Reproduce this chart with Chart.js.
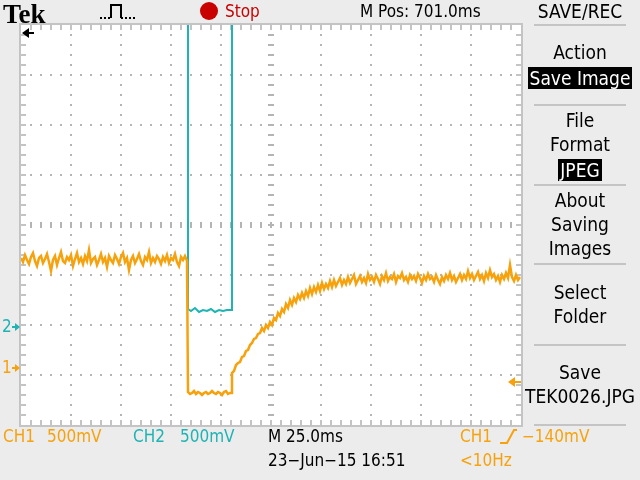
<!DOCTYPE html>
<html lang="en">
<head>
<meta charset="utf-8">
<title>TEK0026</title>
<script src="https://cdn.jsdelivr.net/npm/chart.js@4.4.1/dist/chart.umd.min.js"></script>
<style>
  html, body { margin: 0; padding: 0; }
  body {
    width: 640px; height: 480px; position: relative; overflow: hidden;
    background: #ececec; color: #000;
    font-family: "DejaVu Sans Condensed", "Liberation Sans Narrow", "DejaVu Sans", sans-serif;
    font-stretch: condensed;
  }
  #scope { position: absolute; left: 0; top: 0; }
  .t    { position: absolute; white-space: nowrap; font-size: 17px; line-height: 20px; height: 20px; }
  .menu { position: absolute; left: 520px; width: 120px; text-align: center; white-space: nowrap;
          font-size: 19px; line-height: 24px; height: 24px; }
  .sep  { position: absolute; left: 534px; width: 92px; height: 2px; background: #c4c4c4; }
  .inv  { background: #000; color: #fff; padding: 0 2px; }
  .ch1  { color: #f7a20d; }
  .ch2  { color: #1fb3b3; }
  .red  { color: #c80000; }
</style>
</head>
<body>
<canvas id="scope" width="640" height="480"></canvas>

<!-- top status line -->
<div class="t" style="left:3px; top:-1px; height:26px; line-height:26px; font:bold 27px 'Liberation Serif', serif;">Tek</div>
<svg class="t" style="left:98px; top:2px;" width="40" height="20">
  <polyline points="2,16 13,16" fill="none" stroke="#000" stroke-width="2" stroke-dasharray="2,2"/>
  <polyline points="13,16 13,3 23,3 23,16" fill="none" stroke="#000" stroke-width="2"/>
  <polyline points="23,16 37,16" fill="none" stroke="#000" stroke-width="2" stroke-dasharray="2,2"/>
</svg>
<div style="position:absolute; left:200px; top:2px; width:18px; height:18px; border-radius:50%; background:#c80000;"></div>
<div class="t red" style="left:225px; top:1px;">Stop</div>
<div class="t" style="left:360px; top:1px;">M Pos: 701.0ms</div>
<div class="menu" style="top:-1px;">SAVE/REC</div>

<!-- side menu -->
<div class="sep" style="top:24px;"></div>
<div class="menu" style="top:40px;">Action</div>
<div class="menu" style="top:66px;"><span class="inv">Save Image</span></div>
<div class="sep" style="top:104px;"></div>
<div class="menu" style="top:108px;">File</div>
<div class="menu" style="top:132px;">Format</div>
<div class="menu" style="top:158px;"><span class="inv">JPEG</span></div>
<div class="sep" style="top:184px;"></div>
<div class="menu" style="top:188px;">About</div>
<div class="menu" style="top:212px;">Saving</div>
<div class="menu" style="top:236px;">Images</div>
<div class="sep" style="top:263px;"></div>
<div class="menu" style="top:280px;">Select</div>
<div class="menu" style="top:304px;">Folder</div>
<div class="sep" style="top:344px;"></div>
<div class="menu" style="top:360px;">Save</div>
<div class="menu" style="top:384px;">TEK0026.JPG</div>
<div class="sep" style="top:424px;"></div>

<!-- bottom readouts -->
<div class="t ch1" style="left:3px;   top:426px;">CH1</div>
<div class="t ch1" style="left:47px;  top:426px;">500mV</div>
<div class="t ch2" style="left:133px; top:426px;">CH2</div>
<div class="t ch2" style="left:180px; top:426px;">500mV</div>
<div class="t"     style="left:268px; top:426px;">M 25.0ms</div>
<div class="t"     style="left:268px; top:450px;">23−Jun−15 16:51</div>
<div class="t ch1" style="left:460px; top:426px;">CH1</div>
<svg class="t" style="left:498px; top:428px;" width="20" height="18">
  <polyline points="2,15 7,15 9,15 16,2 19,2" fill="none" stroke="#f7a20d" stroke-width="2"/>
</svg>
<div class="t ch1" style="left:522px; top:426px;">−140mV</div>
<div class="t ch1" style="left:460px; top:450px;">&lt;10Hz</div>

<script>
'use strict';

// ─── Scope settings ───────────────────────────────────────────────────────────
const TIME_PER_DIV   = 25;     // ms/div  (M 25.0ms)
const H_DIVS         = 10;
const V_DIVS         = 8;
const MINOR_PER_DIV  = 5;
const CH1_V_PER_DIV  = 0.5;    // CH1 500mV
const CH2_V_PER_DIV  = 0.5;    // CH2 500mV
const CH1_GROUND_DIV = -2.86;  // "1" marker, divisions from centre
const CH2_GROUND_DIV = -2.04;  // "2" marker
const TRIG_LEVEL_V   = -0.14;  // CH1 -140mV

const CH1_COLOR  = '#f7a20d';
const CH2_COLOR  = '#1fb3b3';
const GRID_COLOR = '#b4b4b4';
const EDGE_COLOR = '#c4c4c4';
const FONT       = '"DejaVu Sans Condensed", "Liberation Sans Narrow", "DejaVu Sans", sans-serif';

// ─── CH1 samples (volts, 1 ms apart) ─────────────────────────────────────────
const ch1BaseStart = 0;
const ch1Base = [
    1.10, 1.06, 1.13, 1.08, 1.04, 1.11, 1.15, 1.07, 1.02, 1.10,
    1.12, 1.05, 1.09, 1.14, 1.06, 0.97, 1.08, 1.12, 1.03, 1.10,
    1.16, 1.07, 1.05, 1.11, 1.08, 1.13, 1.02, 1.09, 1.15, 1.06,
    1.10, 1.04, 1.12, 1.07, 1.18, 1.05, 1.09, 1.11, 1.03, 1.08,
    1.14, 1.06, 1.10, 1.01, 1.12, 1.08, 1.05, 1.13, 1.09, 1.04,
    1.11, 1.15, 1.06, 1.10, 0.98, 1.08, 1.12, 1.05, 1.09, 1.14,
    1.07, 1.03, 1.11, 1.08, 1.16, 1.05, 1.10, 1.06, 1.12, 1.09,
    1.04, 1.11, 1.07, 1.13, 1.05, 1.10, 1.08, 1.14, 1.06, 1.02,
    1.11, 1.08, 1.12, 1.07,
];

const ch1LowStart = 83.5;
const ch1Low = [
    -0.24, -0.26, -0.25, -0.23, -0.26, -0.24, -0.25, -0.27, -0.25, -0.24,
    -0.26, -0.25, -0.23, -0.25, -0.26, -0.24, -0.25, -0.27, -0.24, -0.23,
    -0.26, -0.25, -0.25,
];

const ch1RecStart = 105.5;
const ch1Recovery = [
    -0.05, -0.03, 0.03, 0.05, 0.06, 0.11, 0.12, 0.17, 0.18, 0.23, 0.25, 0.29, 0.30, 0.34, 0.35,
    0.40, 0.37, 0.43, 0.40, 0.46, 0.43, 0.50, 0.48, 0.55, 0.52,
    0.59, 0.56, 0.64, 0.60, 0.68, 0.63, 0.70, 0.66, 0.73, 0.69,
    0.75, 0.70, 0.77, 0.72, 0.80, 0.74, 0.81, 0.76, 0.83, 0.77,
    0.85, 0.79, 0.84, 0.80, 0.87, 0.81, 0.88, 0.82, 0.86, 0.90,
    0.83, 0.88, 0.84, 0.91, 0.85, 0.89, 0.93, 0.84, 0.88, 0.92,
    0.86, 0.90, 0.85, 0.94, 0.88, 0.91, 0.86, 0.93, 0.89, 0.84,
    0.92, 0.88, 0.95, 0.87, 0.91, 0.89, 0.94, 0.86, 0.92, 0.90,
    0.95, 0.88, 0.91, 0.86, 0.93, 0.89, 0.92, 0.87, 0.94, 0.90,
    0.85, 0.92, 0.88, 0.94, 0.89, 0.91, 0.86, 0.93, 0.88, 0.84,
    0.91, 0.87, 0.93, 0.89, 0.95, 0.88, 0.92, 0.86, 0.90, 0.94,
    0.88, 0.93, 0.89, 0.97, 0.90, 0.94, 0.88, 0.92, 0.96, 0.89,
    0.93, 0.87, 0.95, 0.90, 0.98, 0.91, 0.94, 0.88, 0.92, 0.86,
    0.93, 0.89, 0.95, 0.90, 1.03, 0.91, 0.87, 0.93, 0.88, 0.91,
];

// ─── CH2 samples (ms, volts) — above screen outside the pulse ────────────────
const ch2Time  = [0, 83.5, 83.5, 85, 87, 89, 91, 93, 95, 97, 99, 101, 103, 105.5, 105.5, 250];
const ch2Volts = [3.5, 3.5, 0.18, 0.16, 0.19, 0.15, 0.17, 0.16, 0.18, 0.15, 0.17, 0.16, 0.17, 0.17, 3.5, 3.5];

// ─── Utils ────────────────────────────────────────────────────────────────────
function toDiv(volts, ground, vPerDiv) {
    return ground + volts / vPerDiv;
}

function segment(start, values) {
    return values.map(function (v, i) {
        return { x: start + i, y: toDiv(v, CH1_GROUND_DIV, CH1_V_PER_DIV) };
    });
}

// dir = +1 points right, -1 points left; len = full length incl. stem
function arrow(ctx, tipX, y, dir, color, head, half, len) {
    ctx.fillStyle = color;
    ctx.beginPath();
    ctx.moveTo(tipX, y);
    ctx.lineTo(tipX - dir * head, y - half);
    ctx.lineTo(tipX - dir * head, y + half);
    ctx.closePath();
    ctx.fill();
    const x0 = tipX - dir * (head - 1);
    const x1 = tipX - dir * len;
    ctx.fillRect(Math.min(x0, x1), y - 1, Math.abs(x1 - x0), 2);
}

// ─── Graticule (drawn under the traces) ──────────────────────────────────────
const graticule = {
    id: 'graticule',
    beforeDatasetsDraw(chart) {
        const { ctx, chartArea: a, scales: { x, y } } = chart;
        const xMinor = TIME_PER_DIV / MINOR_PER_DIV;
        const yMinor = 1 / MINOR_PER_DIV;
        const nx = H_DIVS * MINOR_PER_DIV;
        const ny = V_DIVS * MINOR_PER_DIV;
        ctx.save();
        ctx.fillStyle = '#ffffff';
        ctx.fillRect(a.left, a.top, a.right - a.left, a.bottom - a.top);

        ctx.fillStyle = GRID_COLOR;
        // dotted division lines
        for (let i = 1; i < H_DIVS; i++) {
            if (i === H_DIVS / 2) continue;
            const px = Math.round(x.getPixelForValue(i * TIME_PER_DIV));
            for (let j = 1; j < ny; j++) {
                const py = Math.round(y.getPixelForValue(-V_DIVS / 2 + j * yMinor));
                ctx.fillRect(px - 1, py - 1, 2, 2);
            }
        }
        for (let i = 1; i < V_DIVS; i++) {
            if (i === V_DIVS / 2) continue;
            const py = Math.round(y.getPixelForValue(-V_DIVS / 2 + i));
            for (let j = 1; j < nx; j++) {
                const px = Math.round(x.getPixelForValue(j * xMinor));
                ctx.fillRect(px - 1, py - 1, 2, 2);
            }
        }
        // centre cross with minor ticks
        const cx = Math.round(x.getPixelForValue(H_DIVS * TIME_PER_DIV / 2));
        const cy = Math.round(y.getPixelForValue(0));
        for (let j = 1; j < ny; j++) {
            const py = Math.round(y.getPixelForValue(-V_DIVS / 2 + j * yMinor));
            ctx.fillRect(cx - 3, py - 1, 6, 2);
        }
        for (let j = 1; j < nx; j++) {
            const px = Math.round(x.getPixelForValue(j * xMinor));
            ctx.fillRect(px - 1, cy - 3, 2, 6);
        }

        // edge ticks + frame
        ctx.fillStyle = EDGE_COLOR;
        for (let j = 1; j < ny; j++) {
            const py = Math.round(y.getPixelForValue(-V_DIVS / 2 + j * yMinor));
            ctx.fillRect(a.left, py - 1, 5, 2);
            ctx.fillRect(a.right - 5, py - 1, 5, 2);
        }
        for (let j = 1; j < nx; j++) {
            const px = Math.round(x.getPixelForValue(j * xMinor));
            ctx.fillRect(px - 1, a.top, 2, 5);
            ctx.fillRect(px - 1, a.bottom - 5, 2, 5);
        }
        ctx.strokeStyle = EDGE_COLOR;
        ctx.lineWidth = 2;
        ctx.strokeRect(a.left - 1, a.top - 1, a.right - a.left + 2, a.bottom - a.top + 2);
        ctx.restore();
    },
};

// ─── Markers (ground, trigger level, trigger position) ───────────────────────
const markers = {
    id: 'markers',
    afterDatasetsDraw(chart) {
        const { ctx, chartArea: a, scales: { y } } = chart;
        ctx.save();
        ctx.font = '17px ' + FONT;
        ctx.textBaseline = 'middle';

        const g1 = Math.round(y.getPixelForValue(CH1_GROUND_DIV));
        const g2 = Math.round(y.getPixelForValue(CH2_GROUND_DIV));
        ctx.fillStyle = CH1_COLOR;
        ctx.fillText('1', 2, g1 + 1);
        arrow(ctx, a.left - 1, g1, 1, CH1_COLOR, 5, 4, 8);
        ctx.fillStyle = CH2_COLOR;
        ctx.fillText('2', 2, g2 + 1);
        arrow(ctx, a.left - 1, g2, 1, CH2_COLOR, 5, 4, 8);

        const trig = Math.round(y.getPixelForValue(toDiv(TRIG_LEVEL_V, CH1_GROUND_DIV, CH1_V_PER_DIV)));
        arrow(ctx, a.right - 13, trig, -1, CH1_COLOR, 7, 5, 13);

        // trigger point lies left of the screen
        arrow(ctx, a.left + 1, a.top + 8, -1, '#000', 7, 5, 12);
        ctx.restore();
    },
};

// ─── Build traces ─────────────────────────────────────────────────────────────
const ch1Points = []
    .concat(segment(ch1BaseStart, ch1Base))
    .concat(segment(ch1LowStart, ch1Low))
    .concat(segment(ch1RecStart, ch1Recovery));

const ch2Points = ch2Time.map(function (t, i) {
    return { x: t, y: toDiv(ch2Volts[i], CH2_GROUND_DIV, CH2_V_PER_DIV) };
});

// ─── Chart ────────────────────────────────────────────────────────────────────
const ctx = document.getElementById('scope').getContext('2d');
new Chart(ctx, {
    type: 'line',
    data: {
        datasets: [
            {
                label: 'CH1',
                data: ch1Points,
                borderColor: CH1_COLOR,
                borderWidth: 2.5,
                pointRadius: 0,
                tension: 0,
                clip: 0,
            },
            {
                label: 'CH2',
                data: ch2Points,
                borderColor: CH2_COLOR,
                borderWidth: 2,
                pointRadius: 0,
                tension: 0,
                clip: 0,
            },
        ],
    },
    options: {
        responsive: false,
        animation: false,
        events: [],
        layout: { padding: { left: 21, top: 25, right: 119, bottom: 55 } },
        scales: {
            x: { type: 'linear', min: 0, max: H_DIVS * TIME_PER_DIV, display: false },
            y: { type: 'linear', min: -V_DIVS / 2, max: V_DIVS / 2, display: false },
        },
        plugins: {
            legend:  { display: false },
            tooltip: { enabled: false },
        },
    },
    plugins: [graticule, markers],
});
</script>
</body>
</html>
